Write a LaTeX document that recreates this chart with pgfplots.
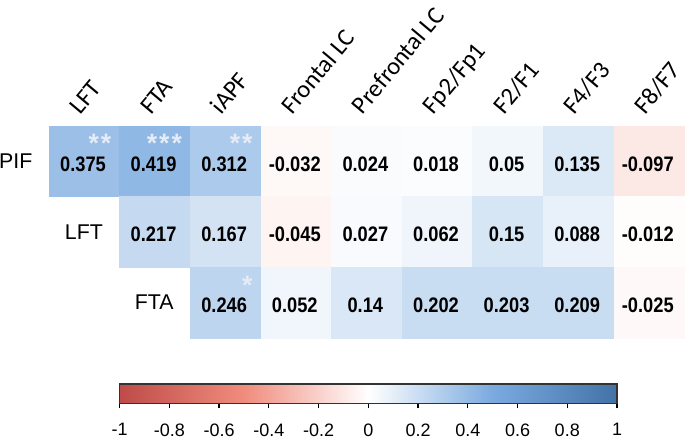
\documentclass[border=0pt]{standalone}
\usepackage{fontspec}
\setmainfont{Liberation Sans}
\newfontfamily\calibri{Carlito}
\newfontfamily\numfont[FakeStretch=0.87]{Liberation Sans}
\usepackage{pgfplots}
\usepackage{pgfplotstable}
\pgfplotsset{compat=1.18}
\definecolor{starcol}{RGB}{228,236,248}
\newcommand\sA{*}
\newcommand\sB{*\kern1.5pt*}
\newcommand\sC{*\kern1.5pt*\kern1.5pt*}
\pgfplotsset{
  colormap={rwb}{rgb255(0cm)=(190,75,72); rgb255(1cm)=(240,140,125); rgb255(2cm)=(255,255,255); rgb255(3cm)=(122,170,223); rgb255(4cm)=(66,114,166)}
}
\pgfplotstableread{
x y v
0 2 0.375
1 2 0.419
2 2 0.312
3 2 -0.032
4 2 0.024
5 2 0.018
6 2 0.05
7 2 0.135
8 2 -0.097
1 1 0.217
2 1 0.167
3 1 -0.045
4 1 0.027
5 1 0.062
6 1 0.15
7 1 0.088
8 1 -0.012
2 0 0.246
3 0 0.052
4 0 0.14
5 0 0.202
6 0 0.203
7 0 0.209
8 0 -0.025
}\cells
\begin{document}
\begin{tikzpicture}
\path[use as bounding box] (0,0) rectangle (513.75pt,-329.25pt);
\begin{axis}[
  at={(36.75pt,-94.5pt)}, anchor=north west,
  x=52.95pt, y=52.95pt,
  xmin=-0.5, xmax=8.5, ymin=-0.5, ymax=2.5,
  colormap name=rwb,
  point meta min=-1, point meta max=1,
  axis line style={draw=none},
  major tick length=0pt,
  xtick={0,1,2,3,4,5,6,7,8},
  xticklabels={LFT,FTA,iAPF,Frontal LC,Prefrontal LC,Fp2/Fp1,F2/F1,F4/F3,F8/F7},
  xticklabel pos=right,
  xticklabel style={xshift=-3pt, yshift=8pt, rotate=50, anchor=base west, inner sep=0pt, font=\calibri\fontsize{18.5}{20}\selectfont},
  ytick=\empty,
  clip=false,
  colorbar horizontal,
  colorbar style={
    at={(parent axis.north west)}, anchor=north west,
    xshift=52.9pt, yshift=-184.85pt,
    scale only axis, width=373.1pt, height=14.6pt,
    xtick={-1,-0.8,-0.6,-0.4,-0.2,0,0.2,0.4,0.6,0.8,1},
    xticklabels={-1,-0.8,-0.6,-0.4,-0.2,0,0.2,0.4,0.6,0.8,1},
    xtick pos=left, xtick align=outside, major tick length=3.75pt,
    tick style={black, line width=0.8pt},
    axis line style={draw=black!80, line width=1.1pt},
    xticklabel style={anchor=north, inner sep=0pt, yshift=-11.25pt, font=\fontsize{13.5}{15}\selectfont},
  },
]
\addplot[scatter, only marks, mark=square*, mark size=26.475pt, line width=0.3pt,
  point meta=explicit,
  scatter/use mapped color={draw=mapped color, fill=mapped color}]
  table[x=x, y=y, meta=v] {\cells};
\addplot[only marks, mark=none, point meta=explicit symbolic, nodes near coords,
  nodes near coords align={center},
  every node near coord/.append style={anchor=center, text=black, xshift=-1pt, yshift=-2pt,
    font=\numfont\bfseries\fontsize{15.75}{17}\selectfont}]
  table[x=x, y=y, meta=v] {\cells};
\addplot[only marks, mark=none, point meta=explicit symbolic, nodes near coords,
  every node near coord/.append style={anchor=east, xshift=-9pt, text=black,
    font=\fontsize{16}{18}\selectfont}]
  coordinates {(-0.5,2) [PIF] (0.5,1) [LFT] (1.5,0) [FTA]};
\addplot[only marks, mark=none, point meta=explicit symbolic, nodes near coords,
  every node near coord/.append style={anchor=base east, inner sep=0pt, text=starcol,
    font=\bfseries\fontsize{20}{20}\selectfont}]
  coordinates {(0.387,2.12) [\sB] (1.387,2.12) [\sC] (2.387,2.12) [\sB] (2.387,0.12) [\sA]};
\end{axis}
\end{tikzpicture}
\end{document}
